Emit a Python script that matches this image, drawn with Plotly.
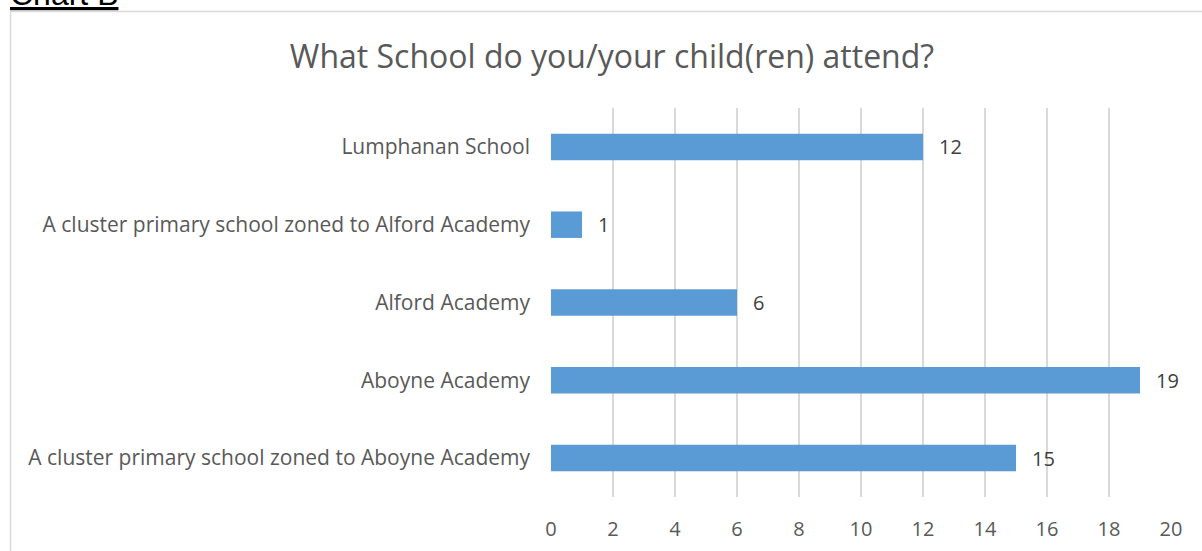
import plotly.graph_objects as go

categories = [
    "A cluster primary school zoned to Aboyne Academy",
    "Aboyne Academy",
    "Alford Academy",
    "A cluster primary school zoned to Alford Academy",
    "Lumphanan School",
]
values = [15, 19, 6, 1, 12]
x_ticks = [0, 2, 4, 6, 8, 10, 12, 14, 16, 18, 20]

W, H = 1202, 551
L, R, T, B = 551, 31, 108, 54
pw = W - L - R
ph = H - T - B

def px2paper_x(px):
    return (px - L) / pw

def px2paper_y(py):
    return (H - B - py) / ph

FONT = "Open Sans, sans-serif"

fig = go.Figure()
fig.add_trace(go.Bar(
    y=categories, x=values, orientation="h",
    marker=dict(color="#5B9BD5", line=dict(width=0)),
    width=0.34,
    hoverinfo="x+y",
))

for c, v in zip(categories, values):
    fig.add_annotation(x=v, y=c, xref="x", yref="y", text=str(v), showarrow=False,
                       xanchor="left", xshift=14,
                       font=dict(family=FONT, size=20, color="#404040"))

# chart border
fig.add_shape(type="rect", xref="paper", yref="paper",
              x0=px2paper_x(10.5), x1=px2paper_x(1250), y0=px2paper_y(11.5), y1=px2paper_y(600),
              line=dict(color="#D9D9D9", width=1.5), fillcolor="rgba(0,0,0,0)", layer="below")

fig.add_annotation(text="<u>Chart B</u>", xref="paper", yref="paper",
                   x=px2paper_x(8), y=px2paper_y(14), xanchor="left", yanchor="bottom",
                   showarrow=False, font=dict(family="Liberation Sans, Arial", size=32, color="#000000"))

fig.update_layout(
    width=W, height=H,
    margin=dict(l=L, r=R, t=T, b=B, autoexpand=False),
    paper_bgcolor="white", plot_bgcolor="white",
    showlegend=False,
    title=dict(text="What School do you/your child(ren) attend?",
               x=612 / W, xanchor="center",
               y=1 - 57 / H, yanchor="middle", yref="container", xref="container",
               font=dict(family=FONT, size=32, color="#595959")),
)
fig.update_xaxes(range=[0, 20], tickvals=x_ticks, showgrid=True, gridcolor="#D9D9D9", gridwidth=1.5,
                 zeroline=False, showline=False, ticks="", ticklabelstandoff=18,
                 tickfont=dict(family=FONT, size=20, color="#595959"))
fig.update_yaxes(categoryorder="array", categoryarray=categories, showgrid=False, zeroline=False,
                 showline=False, ticks="", ticklabelstandoff=20,
                 tickfont=dict(family=FONT, size=21, color="#595959"))

fig.write_html("out.html", config={"displayModeBar": False},
               post_script="document.body.style.margin='0';document.body.style.overflow='hidden';")
